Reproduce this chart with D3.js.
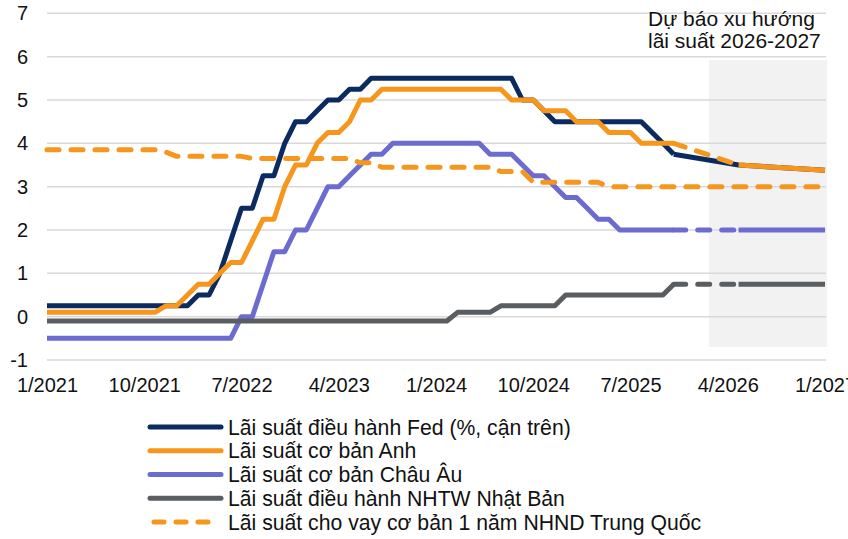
<!DOCTYPE html>
<html>
<head>
<meta charset="utf-8">
<script src="https://cdn.jsdelivr.net/npm/d3@7"></script>
<style>
  html, body { margin: 0; padding: 0; background: #fff; }
  svg { display: block; font-family: "Liberation Sans", Arial, sans-serif; }
</style>
</head>
<body>
<svg id="chart" width="848" height="539"></svg>
<script>
// ---- Categories (monthly, 1/2021 .. 1/2027) ----
const months = d3.range(73).map(i => `${(i % 12) + 1}/${2021 + Math.floor(i / 12)}`);
const tickLabels = ["1/2021", "10/2021", "7/2022", "4/2023", "1/2024", "10/2024", "7/2025", "4/2026", "1/2027"];
const yTicks = [-1, 0, 1, 2, 3, 4, 5, 6, 7];

// ---- Actual series, 1/2021 .. 11/2025 (59 months) ----
const fedActual = [
  0.25, 0.25, 0.25, 0.25, 0.25, 0.25, 0.25, 0.25, 0.25, 0.25, 0.25, 0.25,
  0.25, 0.25, 0.5, 0.5, 1.0, 1.75, 2.5, 2.5, 3.25, 3.25, 4.0, 4.5,
  4.5, 4.75, 5.0, 5.0, 5.25, 5.25, 5.5, 5.5, 5.5, 5.5, 5.5, 5.5,
  5.5, 5.5, 5.5, 5.5, 5.5, 5.5, 5.5, 5.5, 5.0, 5.0, 4.75, 4.5,
  4.5, 4.5, 4.5, 4.5, 4.5, 4.5, 4.5, 4.5, 4.25, 4.0, 3.75
];
const ukActual = [
  0.1, 0.1, 0.1, 0.1, 0.1, 0.1, 0.1, 0.1, 0.1, 0.1, 0.1, 0.25,
  0.25, 0.5, 0.75, 0.75, 1.0, 1.25, 1.25, 1.75, 2.25, 2.25, 3.0, 3.5,
  3.5, 4.0, 4.25, 4.25, 4.5, 5.0, 5.0, 5.25, 5.25, 5.25, 5.25, 5.25,
  5.25, 5.25, 5.25, 5.25, 5.25, 5.25, 5.25, 5.0, 5.0, 5.0, 4.75, 4.75,
  4.75, 4.5, 4.5, 4.5, 4.25, 4.25, 4.25, 4.0, 4.0, 4.0, 4.0
];
const ecbActual = [
  -0.5, -0.5, -0.5, -0.5, -0.5, -0.5, -0.5, -0.5, -0.5, -0.5, -0.5, -0.5,
  -0.5, -0.5, -0.5, -0.5, -0.5, -0.5, 0, 0, 0.75, 1.5, 1.5, 2.0,
  2.0, 2.5, 3.0, 3.0, 3.25, 3.5, 3.75, 3.75, 4.0, 4.0, 4.0, 4.0,
  4.0, 4.0, 4.0, 4.0, 4.0, 3.75, 3.75, 3.75, 3.5, 3.25, 3.25, 3.0,
  2.75, 2.75, 2.5, 2.25, 2.25, 2.0, 2.0, 2.0, 2.0, 2.0, 2.0
];
const bojActual = [
  -0.1, -0.1, -0.1, -0.1, -0.1, -0.1, -0.1, -0.1, -0.1, -0.1, -0.1, -0.1,
  -0.1, -0.1, -0.1, -0.1, -0.1, -0.1, -0.1, -0.1, -0.1, -0.1, -0.1, -0.1,
  -0.1, -0.1, -0.1, -0.1, -0.1, -0.1, -0.1, -0.1, -0.1, -0.1, -0.1, -0.1,
  -0.1, -0.1, 0.1, 0.1, 0.1, 0.1, 0.25, 0.25, 0.25, 0.25, 0.25, 0.25,
  0.5, 0.5, 0.5, 0.5, 0.5, 0.5, 0.5, 0.5, 0.5, 0.5, 0.75
];
// China 1-year LPR, full range 1/2021 .. 1/2027 (73 months)
const chinaLpr = [
  3.85, 3.85, 3.85, 3.85, 3.85, 3.85, 3.85, 3.85, 3.85, 3.85, 3.85, 3.8,
  3.7, 3.7, 3.7, 3.7, 3.7, 3.7, 3.7, 3.65, 3.65, 3.65, 3.65, 3.65,
  3.65, 3.65, 3.65, 3.65, 3.65, 3.55, 3.55, 3.45, 3.45, 3.45, 3.45, 3.45,
  3.45, 3.45, 3.45, 3.45, 3.45, 3.45, 3.35, 3.35, 3.35, 3.1, 3.1, 3.1,
  3.1, 3.1, 3.1, 3.1, 3.0, 3.0, 3.0, 3.0, 3.0, 3.0, 3.0, 3.0,
  3.0, 3.0, 3.0, 3.0, 3.0, 3.0, 3.0, 3.0, 3.0, 3.0, 3.0, 3.0,
  3.0
];

// ---- Forecast series ----
const forecastMonths = ["11/2025", "5/2026", "1/2027"];
const fedForecast = [3.75, 3.5, 3.38];
const ukForecast = [4.0, 3.5, 3.38];
const ecbForecast = [2.0, 2.0, 2.0];
const bojForecast = [0.75, 0.75, 0.75];

// Shaded forecast window
const shadeMonths = ["2/2026", "1/2027"];
const shadeValues = [5.92, -0.7];

const seriesNames = [
  "Lãi suất điều hành Fed (%, cận trên)",
  "Lãi suất cơ bản Anh",
  "Lãi suất cơ bản Châu Âu",
  "Lãi suất điều hành NHTW Nhật Bản",
  "Lãi suất cho vay cơ bản 1 năm NHND Trung Quốc"
];
const seriesColors = ["#0b2a5f", "#f7961d", "#6b6bd0", "#5a5e61", "#f7961d"];
const annotation = ["Dự báo xu hướng", "lãi suất 2026-2027"];

// ---- Drawing ----
const svg = d3.select("#chart");
const x = d3.scalePoint().domain(months).range([47, 825]);
const y = d3.scaleLinear().domain([-1, 7]).range([360, 13.33]);
const LW = 5;
const DASH = "12 12";

// shading
svg.append("rect")
  .attr("x", x(shadeMonths[0]) + 3)
  .attr("y", y(shadeValues[0]))
  .attr("width", x(shadeMonths[1]) + 2 - (x(shadeMonths[0]) + 3))
  .attr("height", y(shadeValues[1]) - y(shadeValues[0]))
  .attr("fill", "#f2f2f2");

// gridlines
svg.append("g").selectAll("line").data(yTicks).join("line")
  .attr("x1", 47).attr("x2", 826)
  .attr("y1", d => y(d)).attr("y2", d => y(d))
  .attr("stroke", "#d9d9d9").attr("stroke-width", 1.5);

// axes
const yAxis = svg.append("g").attr("transform", "translate(47,0)")
  .call(d3.axisLeft(y).tickValues(yTicks).tickSize(0).tickPadding(19).tickFormat(d => String(d)));
yAxis.select(".domain").remove();
yAxis.selectAll("text").attr("font-size", 20).attr("fill", "#111").attr("font-family", "Liberation Sans, Arial, sans-serif");

const xAxis = svg.append("g").attr("transform", "translate(0,360)")
  .call(d3.axisBottom(x).tickValues(tickLabels).tickSize(0).tickPadding(18));
xAxis.select(".domain").remove();
xAxis.selectAll("text").attr("font-size", 20).attr("fill", "#111").attr("font-family", "Liberation Sans, Arial, sans-serif");

const line = d3.line().x(d => x(d.m)).y(d => y(d.v));
const toPts = (vals, cats) => vals.map((v, i) => ({ m: cats ? cats[i] : months[i], v }));

function drawPath(pts, color, dashed) {
  svg.append("path").datum(pts)
    .attr("d", line)
    .attr("fill", "none")
    .attr("stroke", color)
    .attr("stroke-width", LW)
    .attr("stroke-linejoin", "round")
    .attr("stroke-linecap", dashed ? "round" : "butt")
    .attr("stroke-dasharray", dashed ? DASH : null);
}

// actual
drawPath(toPts(fedActual), seriesColors[0], false);
drawPath(toPts(ukActual), seriesColors[1], false);
drawPath(toPts(ecbActual), seriesColors[2], false);
drawPath(toPts(bojActual), seriesColors[3], false);

// forecast
const fc = toPts(fedForecast, forecastMonths);
const uk = toPts(ukForecast, forecastMonths);
const ec = toPts(ecbForecast, forecastMonths);
const bj = toPts(bojForecast, forecastMonths);
drawPath(fc, seriesColors[0], false);
drawPath(ec.slice(0, 2), seriesColors[2], true);
drawPath(ec.slice(1), seriesColors[2], false);
drawPath(bj.slice(0, 2), seriesColors[3], true);
drawPath(bj.slice(1), seriesColors[3], false);
drawPath(uk.slice(0, 2), seriesColors[1], true);
drawPath(uk.slice(1), seriesColors[1], false);

// China LPR dashed
drawPath(toPts(chinaLpr), seriesColors[4], true);

// annotation
const ann = svg.append("text").attr("x", 648).attr("font-size", 21).attr("fill", "#111");
annotation.forEach((t, i) => ann.append("tspan").attr("x", 648).attr("y", 26 + i * 21.5).text(t));

// legend
const lg = svg.append("g");
seriesNames.forEach((name, i) => {
  const cy = 427 + i * 23.75;
  const dashed = i === 4;
  lg.append("line")
    .attr("x1", dashed ? 154 : 150).attr("x2", dashed ? 218 : 221)
    .attr("y1", cy).attr("y2", cy)
    .attr("stroke", seriesColors[i]).attr("stroke-width", LW)
    .attr("stroke-linecap", "round")
    .attr("stroke-dasharray", dashed ? "10 12" : null);
  lg.append("text").attr("x", 228).attr("y", cy + 7.5)
    .attr("font-size", 21.2).attr("fill", "#111").text(name);
});
</script>
</body>
</html>
